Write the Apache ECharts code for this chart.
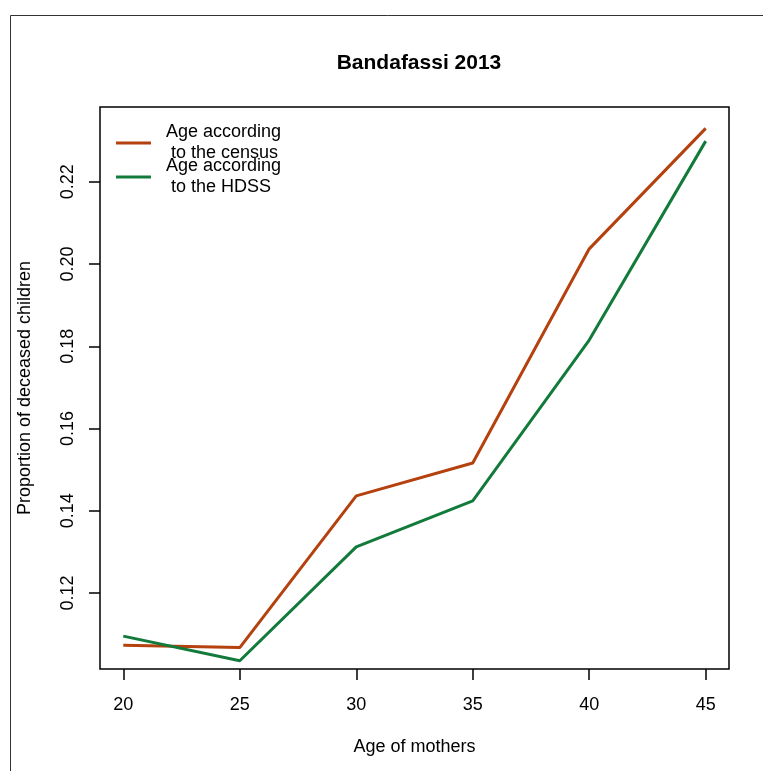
<!DOCTYPE html>
<html>
<head>
<meta charset="utf-8">
<script src="https://cdn.jsdelivr.net/npm/echarts@6/dist/echarts.min.js"></script>
<style>
html,body{margin:0;padding:0;background:#fff;}
#chart{width:763px;height:771px;}
</style>
</head>
<body>
<div id="chart"></div>
<script>
const ages = [20, 25, 30, 35, 40, 45];
const censusValues = [0.1073, 0.1067, 0.1436, 0.1516, 0.2037, 0.2330];
const hdssValues = [0.1095, 0.1035, 0.1312, 0.1424, 0.1815, 0.2299];
const yTicks = [0.12, 0.14, 0.16, 0.18, 0.20, 0.22];
const xTicks = [20, 25, 30, 35, 40, 45];
const seriesNames = ['Age according\n to the census', 'Age according\n to the HDSS'];
const titleText = 'Bandafassi 2013';
const xName = 'Age of mothers';
const yName = 'Proportion of deceased children';

const FONT = '"Liberation Sans", Arial, Helvetica, sans-serif';
const chart = echarts.init(document.getElementById('chart'), null, {renderer: 'canvas'});

function pairs(xs, ys) { return xs.map((x, i) => [x, ys[i]]); }

chart.setOption({
  animation: false,
  backgroundColor: '#fff',
  title: {
    text: titleText,
    left: 414,
    top: 48,
    textAlign: 'center',
    textStyle: {fontFamily: FONT, fontSize: 21, fontWeight: 'bold', color: '#000'}
  },
  graphic: [{
    type: 'rect',
    shape: {x: 10.5, y: 15.5, width: 800, height: 800},
    style: {fill: null, stroke: '#333', lineWidth: 1},
    silent: true
  }],
  grid: {
    left: 100, top: 107, right: 34, bottom: 102,
    show: true, borderColor: '#000', borderWidth: 1.5, backgroundColor: 'transparent',
    containLabel: false
  },
  legend: {
    left: 116, top: 122, orient: 'vertical', padding: 0,
    itemGap: -8, itemWidth: 35, itemHeight: 3, icon: 'rect',
    textStyle: {fontFamily: FONT, fontSize: 18, color: '#000', lineHeight: 21, padding: [0, 0, 0, 10]},
    data: seriesNames
  },
  xAxis: {
    type: 'value', min: 19, max: 46,
    name: xName, nameLocation: 'middle', nameGap: 69,
    nameTextStyle: {fontFamily: FONT, fontSize: 18, color: '#000'},
    axisLine: {show: false},
    splitLine: {show: false},
    axisTick: {show: true, length: 11, customValues: xTicks, lineStyle: {color: '#000', width: 1.5}},
    axisLabel: {customValues: xTicks, margin: 27, fontFamily: FONT, fontSize: 18, color: '#000'}
  },
  yAxis: {
    type: 'value', min: 0.1015, max: 0.2382,
    name: yName, nameLocation: 'middle', nameGap: 66, nameRotate: 90,
    nameTextStyle: {fontFamily: FONT, fontSize: 18, color: '#000'},
    axisLine: {show: false},
    splitLine: {show: false},
    axisTick: {show: true, length: 11, customValues: yTicks, lineStyle: {color: '#000', width: 1.5}},
    axisLabel: {customValues: yTicks, rotate: 90, margin: 23, fontFamily: FONT, fontSize: 18, color: '#000',
      formatter: v => v.toFixed(2)}
  },
  series: [
    {name: seriesNames[0], type: 'line', data: pairs(ages, censusValues), symbol: 'none',
      lineStyle: {color: '#B4410E', width: 3}, itemStyle: {color: '#B4410E'}},
    {name: seriesNames[1], type: 'line', data: pairs(ages, hdssValues), symbol: 'none',
      lineStyle: {color: '#127A3A', width: 3}, itemStyle: {color: '#127A3A'}}
  ]
});
</script>
</body>
</html>
